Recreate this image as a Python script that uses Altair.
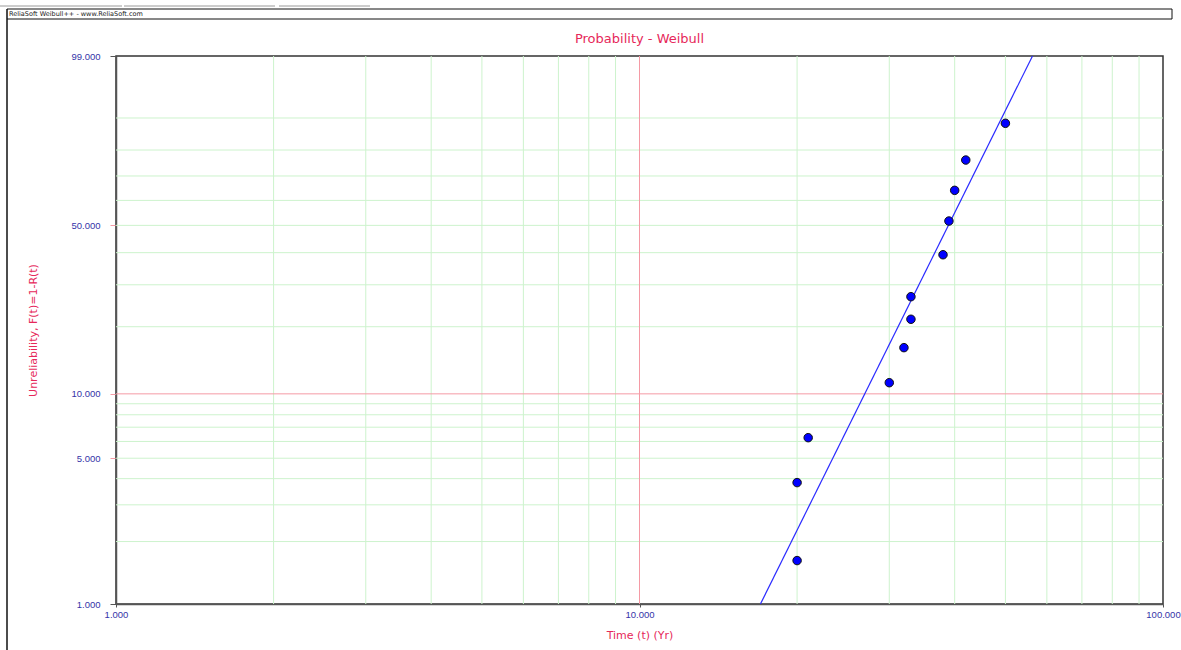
import math

import altair as alt
import pandas as pd

# Failure times (years) and their unreliability plotting positions (%)
time_yr = [20, 20, 21, 30, 32, 33, 33, 38, 39, 40, 42, 50]
unreliability_pct = [1.62, 3.83, 6.25, 11.25, 16.19, 21.54, 26.82, 39.29, 51.69, 64.13, 76.28, 88.58]

# Two-parameter Weibull fit
beta = 5.12
eta = 41.8

# Axis ticks and grid positions
x_ticks = [1, 10, 100]
y_ticks_pct = [1, 5, 10, 50, 99]
x_grid = [2, 3, 4, 5, 6, 7, 8, 9, 20, 30, 40, 50, 60, 70, 80, 90]
y_grid_pct = [2, 3, 4, 5, 6, 7, 8, 9, 20, 30, 40, 50, 60, 70, 80, 90]
x_ref = [10]
y_ref_pct = [10]
fit_range_pct = [1, 99]

FONT = "DejaVu Sans"
TICK_FONT = "Liberation Sans"
LABEL_BLUE = "#3434a8"
TITLE_RED = "#e6285a"
GRID_GREEN = "#cdf3cd"
REF_PINK = "#f59aa5"
AXIS_GREY = "#555555"


def weibull_y(pct):
    """Weibull probability-paper ordinate: ln(-ln(1 - F))."""
    return math.log(-math.log(1.0 - pct / 100.0))


y_lo, y_hi = weibull_y(1), weibull_y(99)

points = pd.DataFrame({
    "t": time_yr,
    "F": unreliability_pct,
    "w": [weibull_y(p) for p in unreliability_pct],
})

fit = pd.DataFrame({
    "F": fit_range_pct,
    "t": [eta * (-math.log(1 - p / 100.0)) ** (1.0 / beta) for p in fit_range_pct],
    "w": [weibull_y(p) for p in fit_range_pct],
})

vgrid = pd.DataFrame({"t": x_grid})
hgrid = pd.DataFrame({"w": [weibull_y(p) for p in y_grid_pct]})
vref = pd.DataFrame({"t": x_ref})
href = pd.DataFrame({"w": [weibull_y(p) for p in y_ref_pct]})

x_scale = alt.Scale(type="log", domain=[1, 100], nice=False)
y_scale = alt.Scale(type="linear", domain=[y_lo, y_hi], nice=False, zero=False)

x_axis = alt.Axis(
    values=x_ticks, format=".3f", grid=False,
    labelFont=TICK_FONT, labelFontSize=9.5, labelColor=LABEL_BLUE, labelPadding=2,
    labelFlush=False, labelOverlap=False,
    tickSize=3, tickColor=AXIS_GREY, domainColor=AXIS_GREY, domainWidth=1.5,
    title="Time (t) (Yr)", titleFont=FONT, titleFontSize=11, titleFontWeight="normal",
    titleColor=TITLE_RED, titleY=31, titleBaseline="middle",
)

y_axis = alt.Axis(
    values=[weibull_y(p) for p in y_ticks_pct],
    labelExpr="format(100 * (1 - exp(-exp(datum.value))), '.3f')",
    grid=False,
    labelFont=TICK_FONT, labelFontSize=9.5, labelColor=LABEL_BLUE, labelPadding=10,
    labelFlush=False, labelOverlap=False,
    tickSize=6,
    tickColor={"condition": {"test": "datum.value > -4 && datum.value < 1", "value": REF_PINK},
               "value": AXIS_GREY},
    domainColor=AXIS_GREY, domainWidth=1.5,
    title="Unreliability, F(t)=1-R(t)", titleFont=FONT, titleFontSize=11,
    titleFontWeight="normal", titleColor=TITLE_RED,
    titleX=-83, titleY=274, titleAngle=270, titleAlign="center", titleBaseline="middle",
)

v_lines = alt.Chart(vgrid).mark_rule(color=GRID_GREEN, strokeWidth=1).encode(
    x=alt.X("t:Q", scale=x_scale, axis=x_axis)
)
h_lines = alt.Chart(hgrid).mark_rule(color=GRID_GREEN, strokeWidth=1).encode(
    y=alt.Y("w:Q", scale=y_scale, axis=y_axis)
)
v_ref = alt.Chart(vref).mark_rule(color=REF_PINK, strokeWidth=1).encode(
    x=alt.X("t:Q", scale=x_scale)
)
h_ref = alt.Chart(href).mark_rule(color=REF_PINK, strokeWidth=1).encode(
    y=alt.Y("w:Q", scale=y_scale)
)

fit_line = alt.Chart(fit).mark_line(color="#2a2aff", strokeWidth=1.2).encode(
    x=alt.X("t:Q", scale=x_scale),
    y=alt.Y("w:Q", scale=y_scale),
    order="F:Q",
)

dots = alt.Chart(points).mark_point(
    shape="circle", filled=True, fill="#0000ff", stroke="#111111",
    strokeWidth=1, size=72, opacity=1,
).encode(
    x=alt.X("t:Q", scale=x_scale),
    y=alt.Y("w:Q", scale=y_scale),
)

one = alt.Data(values=[{}])

title = alt.Chart(one).mark_text(
    font=FONT, fontSize=13, color=TITLE_RED, align="center", baseline="middle"
).encode(x=alt.value(523.5), y=alt.value(-17), text=alt.value("Probability - Weibull"))

# Application window frame around the chart
frame_color = "#111111"
top_edge = alt.Chart(one).mark_rule(color=frame_color, strokeWidth=1).encode(
    x=alt.value(-109), x2=alt.value(1056), y=alt.value(-47))
header_edge = alt.Chart(one).mark_rule(color=frame_color, strokeWidth=1).encode(
    x=alt.value(-109), x2=alt.value(1056), y=alt.value(-37))
left_edge = alt.Chart(one).mark_rule(color=frame_color, strokeWidth=1.5).encode(
    x=alt.value(-109), y=alt.value(-47), y2=alt.value(600))
right_edge = alt.Chart(one).mark_rule(color=frame_color, strokeWidth=1).encode(
    x=alt.value(1056), y=alt.value(-47), y2=alt.value(-37))
tab1 = alt.Chart(one).mark_rule(color="#9a9a9a", strokeWidth=1).encode(
    x=alt.value(-116), x2=alt.value(6), y=alt.value(-50))
tab2 = alt.Chart(one).mark_rule(color="#9a9a9a", strokeWidth=1).encode(
    x=alt.value(8), x2=alt.value(159), y=alt.value(-50))
tab3 = alt.Chart(one).mark_rule(color="#9a9a9a", strokeWidth=1).encode(
    x=alt.value(163), x2=alt.value(254), y=alt.value(-50))
header = alt.Chart(one).mark_text(
    font=FONT, fontSize=6.5, color="#222222", align="left", baseline="middle"
).encode(x=alt.value(-107), y=alt.value(-42), text=alt.value("ReliaSoft Weibull++ - www.ReliaSoft.com"))

chart = alt.layer(
    v_lines, h_lines, v_ref, h_ref, fit_line, dots, title,
    top_edge, header_edge, left_edge, right_edge, tab1, tab2, tab3, header,
).properties(
    width=1047,
    height=548,
    autosize=alt.AutoSizeParams(type="none"),
    padding={"left": 116, "top": 56, "right": 18, "bottom": 46},
    background="white",
).configure_view(
    stroke="#333333", strokeWidth=1.5
)

chart.save("out.html", embed_options={"renderer": "svg", "actions": False})
